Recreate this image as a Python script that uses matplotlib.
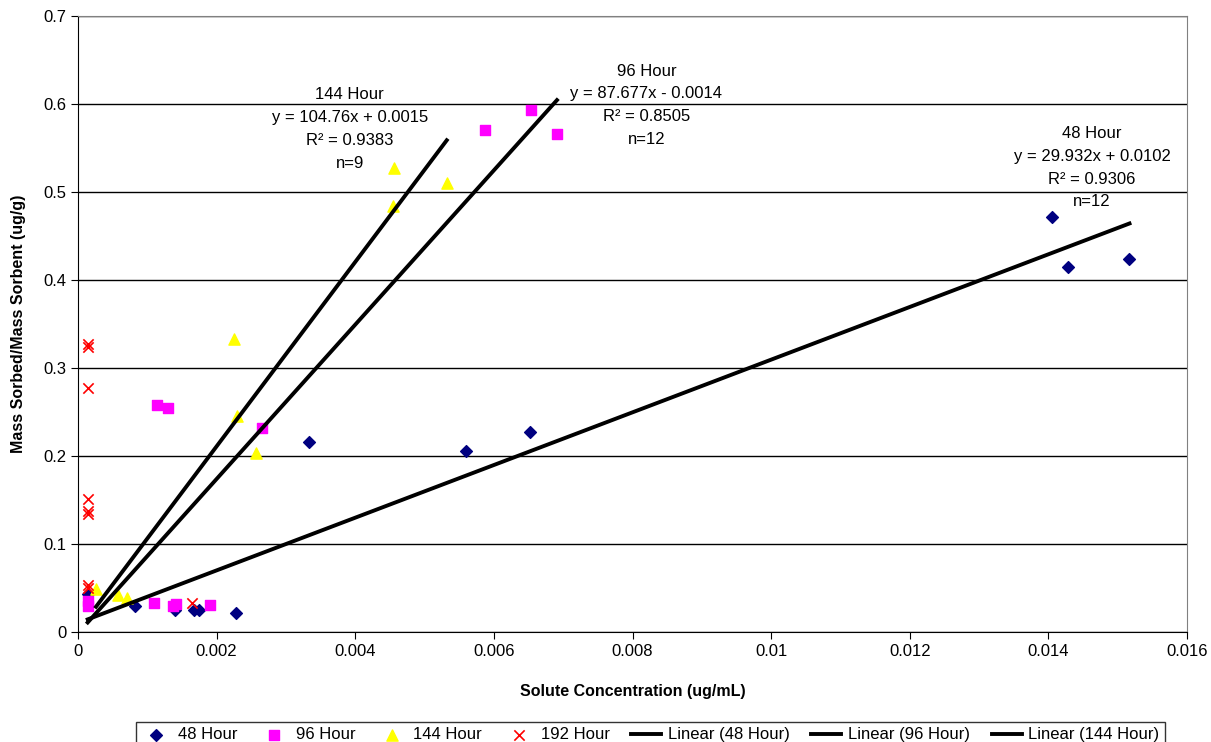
import matplotlib.pyplot as plt
import numpy as np

plt.rcParams['font.family'] = ['Liberation Sans', 'DejaVu Sans']

# 48 Hour
x48 = [0.00014, 0.00082, 0.0014, 0.00167, 0.00175, 0.00228,
       0.00333, 0.0056, 0.00652, 0.01405, 0.01428, 0.01517]
y48 = [0.043, 0.030, 0.025, 0.025, 0.025, 0.022,
       0.216, 0.206, 0.227, 0.472, 0.415, 0.424]

# 96 Hour
x96 = [0.00014, 0.00014, 0.0011, 0.00137, 0.00141, 0.0019,
       0.00114, 0.0013, 0.00266, 0.00587, 0.00654, 0.00691]
y96 = [0.030, 0.035, 0.033, 0.030, 0.032, 0.031,
       0.258, 0.255, 0.232, 0.571, 0.593, 0.566]

# 144 Hour
x144 = [0.00026, 0.00058, 0.00071, 0.00225, 0.00229, 0.00257,
        0.00455, 0.00456, 0.00532]
y144 = [0.049, 0.042, 0.039, 0.333, 0.245, 0.203, 0.484, 0.527, 0.510]

# 192 Hour
x192 = [0.00014, 0.00014, 0.00014, 0.00014, 0.00014, 0.00014,
        0.00014, 0.00014, 0.00164]
y192 = [0.327, 0.324, 0.277, 0.151, 0.137, 0.134, 0.053, 0.050, 0.033]

# trendline coefficients (slope, intercept)
fit48 = (29.932, 0.0102)
fit96 = (87.677, -0.0014)
fit144 = (104.76, 0.0015)

labels48 = ['48 Hour', 'y = 29.932x + 0.0102', 'R² = 0.9306', 'n=12']
labels96 = ['96 Hour', 'y = 87.677x - 0.0014', 'R² = 0.8505', 'n=12']
labels144 = ['144 Hour', 'y = 104.76x + 0.0015', 'R² = 0.9383', 'n=9']

fig = plt.figure(figsize=(12.11, 7.42), dpi=100)
ax = fig.add_axes([0.0644, 0.1482, 0.9158, 0.8302])

ax.scatter(x48, y48, marker='D', s=36, color='#000080', label='48 Hour', zorder=3)
ax.scatter(x96, y96, marker='s', s=60, color='#FF00FF', label='96 Hour', zorder=3)
ax.scatter(x144, y144, marker='^', s=65, color='#FFFF00', label='144 Hour', zorder=3)
ax.scatter(x192, y192, marker='x', s=55, color='#FF0000', linewidths=1.2,
           label='192 Hour', zorder=3)

for xs, (m, b), name in [(x48, fit48, '48 Hour'), (x96, fit96, '96 Hour'),
                         (x144, fit144, '144 Hour')]:
    xx = np.array([min(xs), max(xs)])
    ax.plot(xx, m * xx + b, color='black', lw=2.8, label='Linear (%s)' % name, zorder=4)

for lines, xc, ytop in [(labels144, 0.00392, 0.619), (labels96, 0.0082, 0.646),
                        (labels48, 0.01463, 0.575)]:
    ax.text(xc, ytop, '\n'.join(lines), ha='center', va='top', fontsize=12,
            linespacing=1.65)

ax.set_xlim(0, 0.016)
ax.set_ylim(0, 0.7)
ax.set_xticks(np.arange(0, 0.0161, 0.002))
ax.set_xticklabels(['0', '0.002', '0.004', '0.006', '0.008', '0.01',
                    '0.012', '0.014', '0.016'])
ax.set_yticks(np.arange(0, 0.71, 0.1))
ax.set_yticklabels(['0', '0.1', '0.2', '0.3', '0.4', '0.5', '0.6', '0.7'])
ax.tick_params(labelsize=12, direction='out', length=5, color='black')
ax.yaxis.grid(True, color='black', lw=1)
ax.set_axisbelow(True)
for side in ['top', 'right']:
    ax.spines[side].set_color('#808080')
for side in ['left', 'bottom']:
    ax.spines[side].set_color('black')

ax.set_xlabel('Solute Concentration (ug/mL)', fontsize=11.5, fontweight='bold', labelpad=18)
ax.set_ylabel('Mass Sorbed/Mass Sorbent (ug/g)', fontsize=11.5, fontweight='bold', labelpad=12)

leg = fig.legend(loc='upper center', bbox_to_anchor=(0.537, 1 - 714 / 742), ncol=7,
                 fontsize=12, frameon=True, fancybox=False, edgecolor='black',
                 handlelength=1.8, handletextpad=0.4, columnspacing=1.3,
                 borderpad=0.3)
leg.get_frame().set_linewidth(1)

fig.savefig('out.png', dpi=100)
